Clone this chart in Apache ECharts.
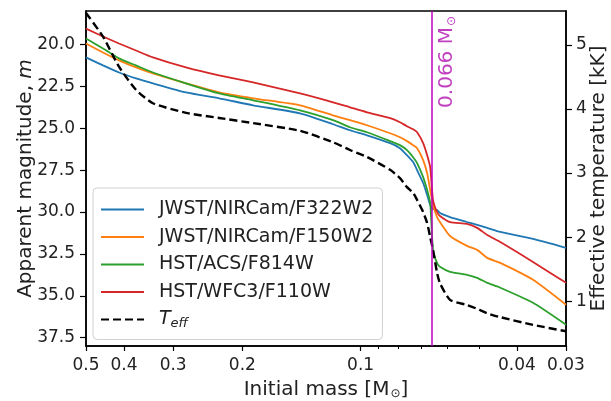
<!DOCTYPE html>
<html><head><meta charset="utf-8">
<script src="https://cdn.jsdelivr.net/npm/echarts@6/dist/echarts.min.js"></script>
<style>html,body{margin:0;padding:0;background:#fff}#c{width:611px;height:401px}</style>
</head><body><div id="c"></div>
<script>
// Initial mass grid [M_sun]
const massGrid = [0.5, 0.4526, 0.4121, 0.3730, 0.3377, 0.2782, 0.2292, 0.1878, 0.1426, 0.1175, 0.1064, 0.0963, 0.0841, 0.0794, 0.0762, 0.0735, 0.0718, 0.0693, 0.0677, 0.0665, 0.0654, 0.0639, 0.0628, 0.0592, 0.0536, 0.0505, 0.0476, 0.0441, 0.0364, 0.030];
// Apparent magnitudes
const magF322W2 = [20.77, 21.25, 21.67, 22.02, 22.32, 22.86, 23.21, 23.63, 24.11, 24.76, 25.12, 25.42, 25.89, 26.19, 26.61, 27.02, 27.50, 28.27, 28.99, 29.58, 29.82, 29.88, 30.06, 30.30, 30.60, 30.77, 30.95, 31.19, 31.61, 32.14];
const magF150W2 = [19.94, 20.48, 20.95, 21.37, 21.73, 22.32, 22.86, 23.21, 23.63, 24.23, 24.52, 24.82, 25.30, 25.54, 25.77, 26.01, 26.19, 26.90, 27.68, 28.69, 29.58, 30.30, 30.60, 31.43, 32.02, 32.26, 32.74, 33.04, 34.05, 35.54];
const magF814W  = [19.64, 20.24, 20.83, 21.25, 21.67, 22.32, 22.92, 23.33, 23.93, 24.52, 24.94, 25.24, 25.77, 26.01, 26.31, 26.73, 27.08, 27.92, 28.69, 29.46, 32.26, 33.04, 33.27, 33.57, 33.75, 33.93, 34.23, 34.52, 35.42, 36.73];
const magF110W  = [19.05, 19.52, 19.94, 20.36, 20.77, 21.37, 21.85, 22.26, 22.92, 23.45, 23.75, 24.05, 24.40, 24.64, 24.88, 25.06, 25.24, 25.89, 26.61, 27.32, 29.29, 30.00, 30.24, 30.60, 30.71, 30.95, 31.37, 31.79, 32.98, 34.23];
// Effective temperature [kK]
const teff = [5.50, 5.13, 4.66, 4.30, 4.09, 3.94, 3.86, 3.78, 3.66, 3.48, 3.36, 3.25, 3.05, 2.92, 2.78, 2.69, 2.58, 2.39, 2.22, 2.00, 1.80, 1.45, 1.28, 1.02, 0.94, 0.88, 0.81, 0.75, 0.63, 0.53];
// Ticks
const xMajorTicks = [0.5, 0.4, 0.3, 0.2, 0.1, 0.04, 0.03];
const xMinorTicks = [0.09, 0.08, 0.07, 0.06, 0.05];
const magTicks = [20, 22.5, 25, 27.5, 30, 32.5, 35, 37.5];
const teffTicks = [1, 2, 3, 4, 5];
const lineMass = 0.066;
const names = ['JWST/NIRCam/F322W2', 'JWST/NIRCam/F150W2', 'HST/ACS/F814W', 'HST/WFC3/F110W'];
const colors = ['#1f77b4', '#ff7f0e', '#2ca02c', '#d62728'];
const mags = [magF322W2, magF150W2, magF814W, magF110W];

const FF = 'DejaVu Sans';
const TXT = '#222';
const pairs = arr => massGrid.map((m, i) => [m, arr[i]]);
const chart = echarts.init(document.getElementById('c'), null, {renderer: 'canvas'});
const series = mags.map((arr, k) => ({
  name: names[k], type: 'line', xAxisIndex: 0, yAxisIndex: 0, data: pairs(arr),
  showSymbol: false, symbol: 'none', smooth: 0.2,
  lineStyle: {color: colors[k], width: 1.8}, itemStyle: {color: colors[k]}, z: 3
}));
series.push({
  name: 'Teff', type: 'line', xAxisIndex: 0, yAxisIndex: 1, data: pairs(teff),
  showSymbol: false, symbol: 'none', smooth: 0.2,
  lineStyle: {color: '#000', width: 2.4, type: [8, 4]}, itemStyle: {color: '#000'}, z: 4,
  markLine: {
    silent: true, symbol: 'none', precision: 4,
    lineStyle: {color: '#bf00bf', width: 1.5, type: 'solid'},
    label: {show: true, position: 'insideEndBottom', distance: 5, formatter: '0.066 M{s|⊙}',
      color: '#c040c0', fontSize: 20, fontFamily: FF,
      rich: {s: {fontSize: 12, color: '#c040c0', fontFamily: FF, verticalAlign: 'bottom', padding: [9, 0, 0, 1]}}},
    data: [{xAxis: lineMass}]
  }
});
const axisLineStyle = {color: '#000', width: 1.5};
chart.setOption({
  animation: false,
  textStyle: {fontFamily: FF},
  grid: {left: 86, right: 45, top: 11, bottom: 55, outerBoundsMode: 'none', containLabel: false,
    show: true, borderColor: '#000', borderWidth: 1.5, backgroundColor: 'transparent'},
  legend: {
    orient: 'vertical', left: 93, top: 188, padding: [12, 9, 9, 7], itemGap: 8.5,
    itemWidth: 43, itemHeight: 18, backgroundColor: 'rgba(255,255,255,0.85)',
    borderColor: '#d0d0d0', borderWidth: 1, borderRadius: 4,
    itemStyle: {opacity: 0, borderWidth: 0},
    data: names.concat(['Teff']),
    formatter: n => n === 'Teff' ? '{i|T}{s|eff}' : n,
    textStyle: {fontSize: 19, fontFamily: FF, color: TXT, padding: [0, 0, 0, 10],
      rich: {i: {fontSize: 19, fontStyle: 'italic', fontFamily: FF, color: TXT},
             s: {fontSize: 13, fontStyle: 'italic', fontFamily: FF, color: TXT, verticalAlign: 'bottom', padding: [9, 0, 0, 0]}}}
  },
  xAxis: [{
    type: 'log', logBase: 10, min: 0.03, max: 0.5, inverse: true,
    name: 'Initial mass [M{s|⊙}]', nameLocation: 'middle', nameGap: 33, nameMoveOverlap: false,
    nameTextStyle: {fontSize: 20, fontFamily: FF, color: TXT, rich: {s: {fontSize: 12, fontFamily: FF, color: TXT, verticalAlign: 'bottom', padding: [9, 0, 0, 1]}}},
    axisLine: {onZero: false, lineStyle: axisLineStyle},
    axisTick: {show: true, length: 5, lineStyle: {color: '#000', width: 1.2}, customValues: xMajorTicks},
    axisLabel: {customValues: xMajorTicks, formatter: v => String(+v.toPrecision(3)), fontSize: 17, color: TXT, margin: 11, fontFamily: FF},
    splitLine: {show: false}, minorTick: {show: false}
  }, {
    type: 'log', logBase: 10, min: 0.03, max: 0.5, inverse: true, position: 'bottom',
    axisLine: {show: false}, axisLabel: {show: false},
    axisTick: {show: true, length: 3, lineStyle: {color: '#000', width: 1}, customValues: xMinorTicks},
    splitLine: {show: false}
  }],
  yAxis: [{
    type: 'value', min: 18, max: 38, inverse: true,
    name: 'Apparent magnitude, {i|m}', nameLocation: 'middle', nameGap: 50, nameRotate: 90, nameMoveOverlap: false,
    nameTextStyle: {fontSize: 20, fontFamily: FF, color: TXT, rich: {i: {fontSize: 20, fontStyle: 'italic', fontFamily: FF, color: TXT}}},
    axisLine: {onZero: false, lineStyle: axisLineStyle},
    axisTick: {show: true, length: 6, lineStyle: {color: '#000', width: 1.2}, customValues: magTicks},
    axisLabel: {customValues: magTicks, formatter: v => (+v).toFixed(1), fontSize: 17, color: TXT, margin: 11, fontFamily: FF},
    splitLine: {show: false}
  }, {
    type: 'value', min: 0.3, max: 5.53, position: 'right',
    name: 'Effective temperature [kK]', nameLocation: 'middle', nameGap: 23, nameRotate: 90, nameMoveOverlap: false,
    nameTextStyle: {fontSize: 20, fontFamily: FF, color: TXT, verticalAlign: 'top'},
    axisLine: {onZero: false, lineStyle: axisLineStyle},
    axisTick: {show: true, length: 6, lineStyle: {color: '#000', width: 1.2}, customValues: teffTicks},
    axisLabel: {customValues: teffTicks, formatter: v => String(v), fontSize: 17, color: TXT, margin: 10, fontFamily: FF},
    splitLine: {show: false}
  }],
  series: series
});
</script></body></html>
